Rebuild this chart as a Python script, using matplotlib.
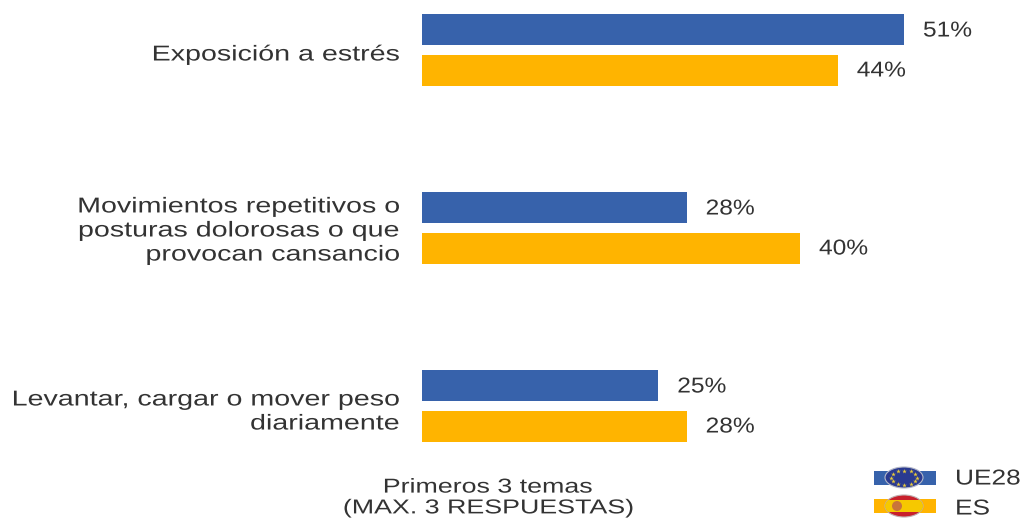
import numpy as np
import matplotlib
matplotlib.use('Agg')
import matplotlib.pyplot as plt
from matplotlib.patches import Rectangle, Ellipse
from matplotlib.patheffects import AbstractPathEffect
from matplotlib.transforms import Affine2D

plt.rcParams['font.family'] = ['Liberation Sans', 'DejaVu Sans']

temas = ['Exposición a estrés',
         'Movimientos repetitivos o\nposturas dolorosas o que\nprovocan cansancio',
         'Levantar, cargar o mover peso\ndiariamente']
ue28 = [51, 28, 25]
es = [44, 40, 28]
azul = '#3762AB'
naranja = '#FFB400'
gris = '#333333'


# the reference is stretched sideways, so stretch the text the same way
class Estirar(AbstractPathEffect):
    def __init__(self, x, sx):
        super().__init__()
        self.x = x
        self.sx = sx

    def draw_path(self, renderer, gc, tpath, affine, rgbFace=None):
        t = affine + Affine2D().translate(-self.x, 0).scale(self.sx, 1).translate(self.x, 0)
        renderer.draw_path(gc, tpath, t, rgbFace)


def texto(x, y, s, sx, size=15.5, ha='left', ls=1.19):
    ax.text(x, y, s, fontsize=size, ha=ha, va='center', color=gris, linespacing=ls,
            path_effects=[Estirar(x, sx)])


fig = plt.figure(figsize=(10.23, 5.18), dpi=100)
ax = fig.add_axes([0, 0, 1, 1])
ax.set_xlim(0, 1023)
ax.set_ylim(518, 0)
ax.axis('off')

x0 = 422
k = 9.45
y_top = [14, 192, 370]
y_tema = [55, 231, 412]

for i, t in enumerate(temas):
    y = y_top[i]
    ax.add_patch(Rectangle((x0, y), ue28[i] * k, 31, fc=azul, ec='none'))
    ax.add_patch(Rectangle((x0, y + 40.5), es[i] * k, 31, fc=naranja, ec='none'))
    texto(x0 + ue28[i] * k + 19, y + 17, '%d%%' % ue28[i], 1.14)
    texto(x0 + es[i] * k + 19, y + 57, '%d%%' % es[i], 1.14)
    texto(399, y_tema[i], t, 1.33, ha='right')

texto(488, 497.5, 'Primeros 3 temas\n(MAX. 3 RESPUESTAS)', 1.33, size=14.5, ha='center', ls=1.12)

# legend flags
ax.add_patch(Rectangle((874, 471), 62, 14, fc=azul, ec='none'))
ue = Ellipse((904, 477.5), 38, 21, fc='#2A3A90', ec='#B4B8C8', lw=0.8, zorder=2)
ax.add_patch(ue)
ang = np.linspace(0, 2 * np.pi, 12, endpoint=False)
ax.scatter(904 + 13 * np.cos(ang), 477.5 + 7 * np.sin(ang), s=12, marker='*', c='#E8C93A', lw=0, zorder=3)

ax.add_patch(Rectangle((874, 499), 62, 14, fc=naranja, ec='none'))
esp = Ellipse((904, 506), 38, 22, fc='#C8202C', ec='#C0B0B0', lw=0.8, zorder=2)
ax.add_patch(esp)
banda = Rectangle((884, 500), 40, 12, fc='#F6C800', ec='none', zorder=3)
ax.add_patch(banda)
banda.set_clip_path(esp)
ax.add_patch(Ellipse((897, 506), 10, 10, fc='#C9743A', ec='none', zorder=4))

texto(955, 479, 'UE28', 1.22)
texto(955, 509, 'ES', 1.22)

fig.savefig('out.png', dpi=100)
